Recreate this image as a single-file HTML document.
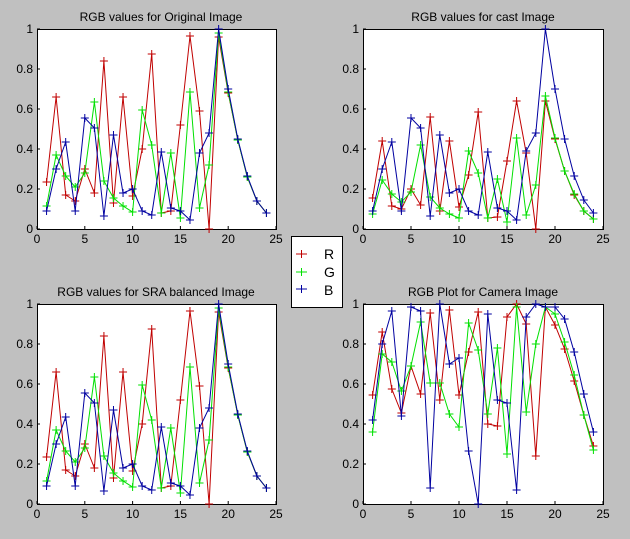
<!DOCTYPE html>
<html><head><style>body{margin:0;background:#c0c0c0;}svg{display:block}text{font-family:"Liberation Sans",sans-serif;}</style></head>
<body>
<svg id="s" width="630" height="539" xmlns="http://www.w3.org/2000/svg">
<rect width="630" height="539" fill="#c0c0c0"/>
<text x="161" y="21" font-size="12" text-anchor="middle">RGB values for Original Image</text>
<text x="483" y="21" font-size="12" text-anchor="middle">RGB values for cast Image</text>
<text x="156" y="296" font-size="12" text-anchor="middle">RGB values for SRA balanced Image</text>
<text x="483" y="296" font-size="12" text-anchor="middle">RGB Plot for Camera Image</text>
<rect x="291.5" y="236.5" width="51" height="71" fill="#fff" stroke="#000"/>
<line x1="296" y1="254" x2="307" y2="254" stroke="#c00000"/><line x1="301.5" y1="250" x2="301.5" y2="258" stroke="#c00000"/>
<line x1="296" y1="272" x2="307" y2="272" stroke="#00e000"/><line x1="301.5" y1="268" x2="301.5" y2="276" stroke="#00e000"/>
<line x1="296" y1="289" x2="307" y2="289" stroke="#0000a0"/><line x1="301.5" y1="285" x2="301.5" y2="293" stroke="#0000a0"/>
<text x="324" y="259" font-size="14">R</text>
<text x="324" y="277" font-size="14">G</text>
<text x="324" y="295" font-size="14">B</text>
</svg>
<script>
var A={R:[0.235,0.66,0.17,0.14,0.30,0.18,0.84,0.13,0.66,0.165,0.40,0.875,0.08,0.09,0.52,0.965,0.59,0.0,0.96,0.68,0.445,0.26,0.14,0.08],
G:[0.115,0.37,0.265,0.21,0.28,0.635,0.24,0.155,0.115,0.085,0.595,0.42,0.08,0.38,0.055,0.685,0.105,0.32,0.98,0.685,0.445,0.26,0.14,0.08],
B:[0.09,0.30,0.435,0.09,0.555,0.505,0.065,0.47,0.18,0.20,0.09,0.07,0.385,0.105,0.09,0.045,0.38,0.48,1.0,0.70,0.45,0.265,0.14,0.08]};
var C={R:[0.155,0.44,0.115,0.10,0.20,0.12,0.56,0.09,0.44,0.11,0.27,0.585,0.055,0.06,0.34,0.64,0.38,0.0,0.64,0.45,0.29,0.17,0.09,0.05],
G:[0.075,0.245,0.175,0.135,0.185,0.42,0.16,0.105,0.075,0.055,0.39,0.28,0.055,0.25,0.035,0.455,0.07,0.22,0.665,0.455,0.29,0.175,0.09,0.05],
B:[0.09,0.30,0.435,0.09,0.555,0.505,0.065,0.47,0.18,0.20,0.09,0.07,0.385,0.105,0.09,0.045,0.39,0.48,1.0,0.70,0.45,0.265,0.145,0.08]};
var D={R:[0.545,0.86,0.575,0.455,0.69,0.55,0.955,0.52,0.97,0.545,0.76,0.96,0.40,0.39,0.935,1.0,0.90,0.24,0.985,0.895,0.775,0.615,0.445,0.29],
G:[0.36,0.75,0.71,0.565,0.69,0.91,0.605,0.605,0.45,0.385,0.905,0.77,0.45,0.78,0.25,0.985,0.46,0.80,0.985,0.95,0.81,0.645,0.445,0.27],
B:[0.42,0.80,0.965,0.44,0.985,0.965,0.08,1.0,0.70,0.73,0.265,0.0,0.95,0.52,0.505,0.07,0.935,1.0,0.985,0.985,0.925,0.76,0.55,0.36]};
var col={R:"#c00000",G:"#00e000",B:"#0000a0"};
var s=document.getElementById('s'),h='';
function plot(x0,x1,y0,y1,d){
 h+='<rect x="'+x0+'.5" y="'+y0+'.5" width="'+(x1-x0)+'" height="'+(y1-y0)+'" fill="#fff" stroke="#000"/>';
 for(var i=0;i<=5;i++){var x=x0+(x1-x0)*i/5;h+='<line x1="'+x+'" y1="'+y1+'" x2="'+x+'" y2="'+(y1-3)+'" stroke="#000"/><text x="'+x+'" y="'+(y1+14)+'" font-size="12" text-anchor="middle">'+(i*5)+'</text>';
  var y=y1-(y1-y0)*i/5;h+='<line x1="'+x0+'" y1="'+y+'" x2="'+(x0+3)+'" y2="'+y+'" stroke="#000"/><text x="'+(x0-4)+'" y="'+(y+4)+'" font-size="12" text-anchor="end">'+(i==0?'0':i==5?'1':(i/5).toFixed(1))+'</text>';}
 ['R','G','B'].forEach(function(k){var p=[];d[k].forEach(function(v,j){var x=x0+(x1-x0)*(j+1)/25,y=y1-(y1-y0)*v;p.push(x.toFixed(1)+','+y.toFixed(1));
  h+='<path d="M'+(x-4)+' '+y+'h8M'+x+' '+(y-4)+'v8" stroke="'+col[k]+'"/>';});
  h+='<polyline points="'+p.join(' ')+'" fill="none" stroke="'+col[k]+'"/>';});
}
plot(37,276,29,229,A);plot(363,603,29,229,C);plot(37,276,304,504,A);plot(363,603,304,504,D);
s.insertAdjacentHTML('beforeend',h);
</script>
</body></html>
